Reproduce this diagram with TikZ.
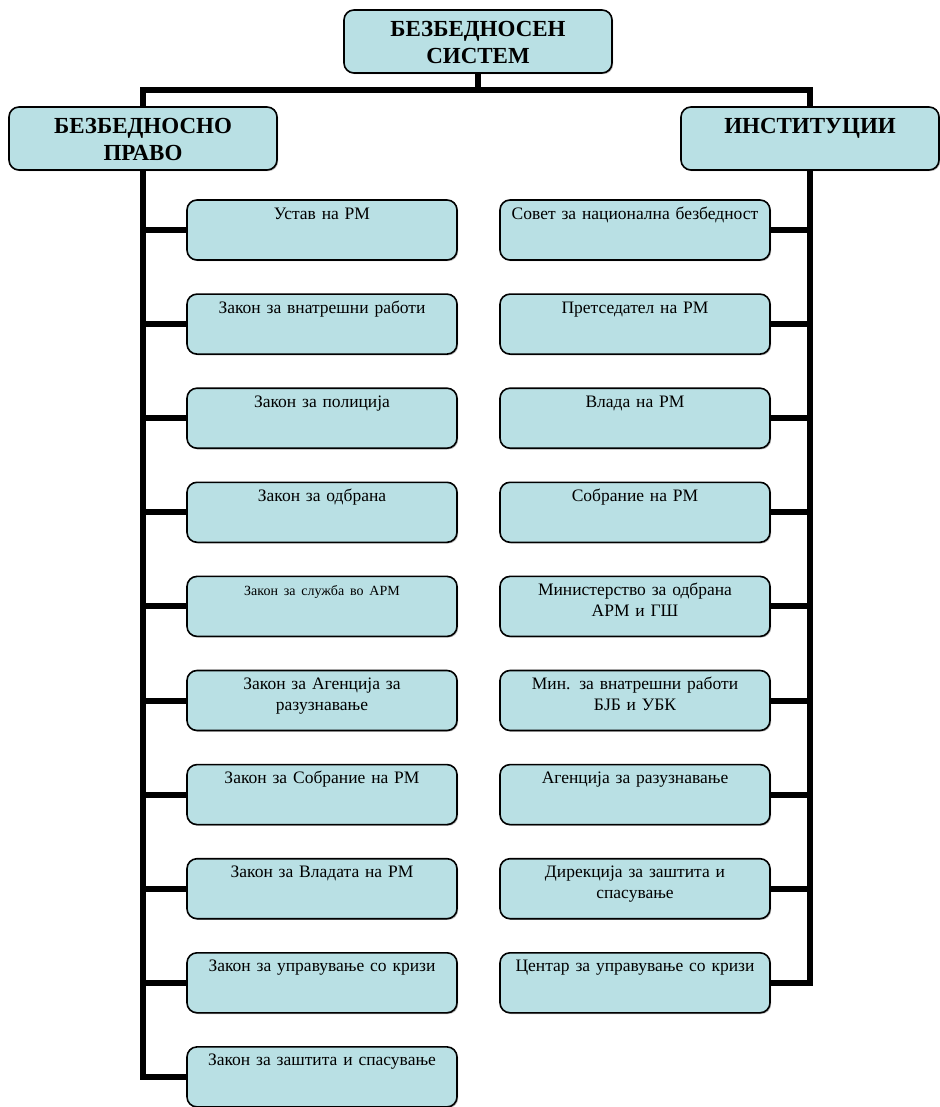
\documentclass[tikz,border=0pt]{standalone}
\usepackage{fontspec}
\setmainfont{Liberation Serif}
\usetikzlibrary{shadows}
\definecolor{boxfill}{RGB}{185,224,228}
\tikzset{
    bar/.style={line width=6pt},
    headbox/.style={draw, line width=1.6pt, rounded corners=10pt, fill=boxfill,
        drop shadow={shadow xshift=1.2pt, shadow yshift=-1.2pt, fill=black!55},
        text width=260pt, align=center, inner xsep=4pt, inner ysep=6pt,
        text height=21pt, text depth=30pt, font=\fontsize{23}{27}\selectfont\bfseries},
    itembox/.style={draw, line width=1.6pt, rounded corners=10pt, fill=boxfill,
        drop shadow={shadow xshift=1.2pt, shadow yshift=-1.2pt, fill=black!55},
        text width=262pt, align=center, inner xsep=4pt, inner ysep=2pt,
        text height=17pt, text depth=39pt, font=\fontsize{17.5}{21}\selectfont}
}
\begin{document}
\begin{tikzpicture}[x=1pt,y=-1pt]
    \useasboundingbox (0,0) rectangle (939,1107);

    % Niveau haut
    \node[headbox] (sys) at (478,41.5) {БЕЗБЕДНОСЕН\\СИСТЕМ};
    \node[headbox] (law) at (143,138.5) {БЕЗБЕДНОСНО\\ПРАВО};
    \node[headbox, text width=250pt] (inst) at (810,138.5) {ИНСТИТУЦИИ};

    % Liaisons du haut
    \coordinate (bus) at (478,90);
    \draw[bar] (sys.south) -- (bus) -| (law.north);
    \draw[bar] (bus) -| (inst.north);

    % Colonne gauche
    \foreach \t [count=\i] in {Устав на РМ, Закон за внатрешни работи,
        Закон за полиција, Закон за одбрана,
        {\fontsize{14}{17}\selectfont Закон за служба во АРМ},
        {Закон за Агенција за\\разузнавање}, Закон за Собрание на РМ,
        Закон за Владата на РМ, Закон за управување со кризи,
        Закон за заштита и спасување}
        \node[itembox] (l\i) at (322,{230+94.1*(\i-1)}) {\t};

    % Colonne droite
    \foreach \t [count=\i] in {Совет за национална безбедност,
        Претседател на РМ, Влада на РМ, Собрание на РМ,
        {Министерство за одбрана\\АРМ и ГШ}, {Мин. за внатрешни работи\\БЈБ и УБК},
        Агенција за разузнавање, {Дирекција за заштита и\\спасување},
        Центар за управување со кризи}
        \node[itembox] (r\i) at (635,{230+94.1*(\i-1)}) {\t};

    % Liaisons des colonnes
    \draw[bar] (law.south) |- (l10.west);
    \foreach \i in {1,...,9}
        \draw[bar] (law.south |- l\i.west) -- (l\i.west);
    \draw[bar] (inst.south) |- (r9.east);
    \foreach \i in {1,...,8}
        \draw[bar] (inst.south |- r\i.east) -- (r\i.east);
\end{tikzpicture}
\end{document}
